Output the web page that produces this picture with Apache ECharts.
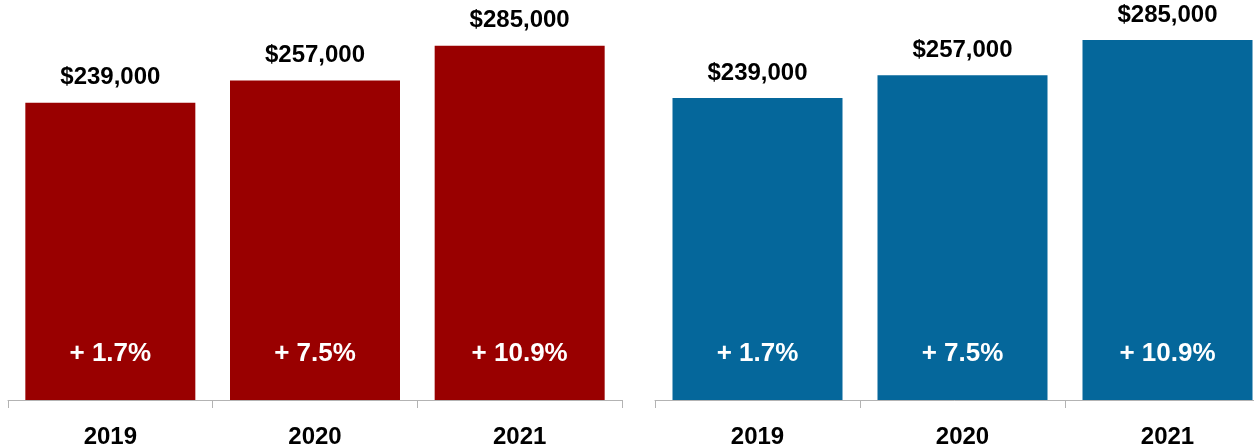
<!DOCTYPE html>
<html>
<head>
<meta charset="utf-8">
<script src="https://cdn.jsdelivr.net/npm/echarts@6/dist/echarts.min.js"></script>
<style>
  html, body { margin: 0; padding: 0; background: #ffffff; }
  #chart { width: 1254px; height: 448px; }
</style>
</head>
<body>
<div id="chart"></div>
<script>
// Median price by year, with year-over-year change
const years = ['2019', '2020', '2021'];
const leftPrices = [239000, 257000, 285000];
const leftChanges = [1.7, 7.5, 10.9];
const rightPrices = [239000, 257000, 285000];
const rightChanges = [1.7, 7.5, 10.9];

const FONT = "'Liberation Sans', Arial, Helvetica, sans-serif";
const RED = '#990000';
const BLUE = '#05679b';

const fmtMoney = v => '$' + v.toLocaleString('en-US');
const fmtChange = v => '+ ' + v.toFixed(1) + '%';

function xAxisFor(gridIndex) {
  return {
    type: 'category',
    gridIndex: gridIndex,
    data: years,
    axisLine: { show: true, lineStyle: { color: '#b3b3b3', width: 1 } },
    axisTick: { show: true, length: 8, lineStyle: { color: '#b3b3b3' } },
    axisLabel: {
      color: '#000', fontFamily: FONT, fontWeight: 'bold', fontSize: 24, margin: 25
    }
  };
}

function yAxisFor(gridIndex) {
  return { type: 'value', gridIndex: gridIndex, min: 0, max: 300000, show: false };
}

function seriesFor(axisIndex, prices, changes, color) {
  return [
    {
      type: 'bar',
      xAxisIndex: axisIndex,
      yAxisIndex: axisIndex,
      data: prices,
      barWidth: 170,
      itemStyle: { color: color },
      label: {
        show: true, position: 'top', distance: 13,
        formatter: p => fmtMoney(p.value),
        color: '#000', fontFamily: FONT, fontWeight: 'bold', fontSize: 24
      },
      silent: true,
      z: 2
    },
    {
      // change labels sitting near the bottom of each bar
      type: 'bar',
      xAxisIndex: axisIndex,
      yAxisIndex: axisIndex,
      data: prices,
      barWidth: 170,
      barGap: '-100%',
      itemStyle: { color: 'rgba(0,0,0,0)' },
      label: {
        show: true, position: 'insideBottom', distance: 33,
        formatter: p => fmtChange(changes[p.dataIndex]),
        color: '#fff', fontFamily: FONT, fontWeight: 'bold', fontSize: 26
      },
      silent: true,
      z: 3
    }
  ];
}

const chart = echarts.init(document.getElementById('chart'), null, { renderer: 'canvas' });
chart.setOption({
  animation: false,
  backgroundColor: '#ffffff',
  grid: [
    { left: 8, right: 632, top: 27, bottom: 48, outerBoundsMode: 'none' },
    { left: 655, right: -16, top: 21, bottom: 48, outerBoundsMode: 'none' }
  ],
  xAxis: [xAxisFor(0), xAxisFor(1)],
  yAxis: [yAxisFor(0), yAxisFor(1)],
  series: [
    ...seriesFor(0, leftPrices, leftChanges, RED),
    ...seriesFor(1, rightPrices, rightChanges, BLUE)
  ]
});
</script>
</body>
</html>
